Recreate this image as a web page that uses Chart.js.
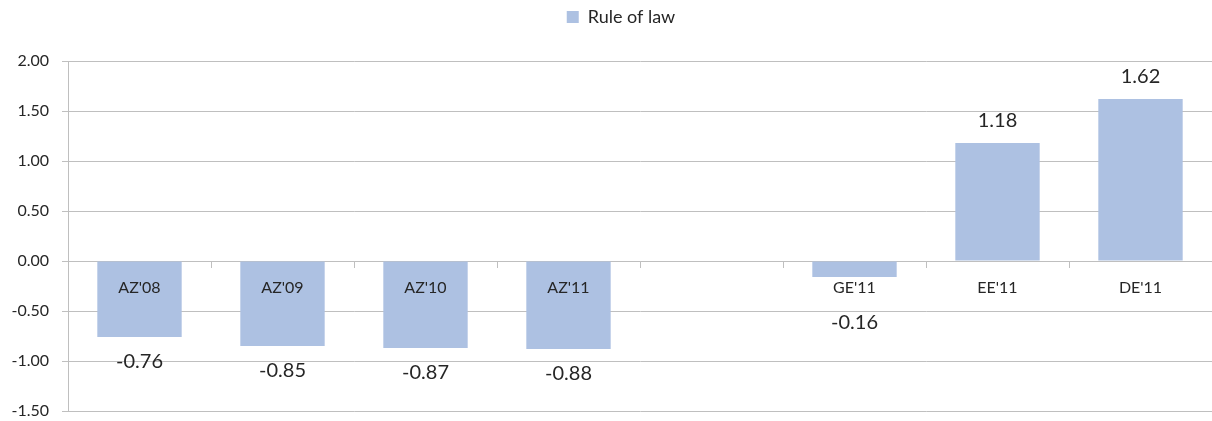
<!DOCTYPE html>
<html>
<head>
<meta charset="utf-8">
<script src="https://cdn.jsdelivr.net/npm/chart.js@4/dist/chart.umd.min.js"></script>
<style>
  html, body { margin: 0; padding: 0; background: #fff; }
  #wrap { width: 1212px; height: 421px; }
</style>
</head>
<body>
<div id="wrap"><canvas id="lawChart"></canvas></div>
<script>
'use strict';
// categories along the zero line (one empty slot between AZ and GE)
let countries = ['AZ\'08', 'AZ\'09', 'AZ\'10', 'AZ\'11', '', 'GE\'11', 'EE\'11', 'DE\'11'];
let ruleOfLaw = [-0.76, -0.85, -0.87, -0.88, null, -0.16, 1.18, 1.62];
let yTicks = [-1.5, -1.0, -0.5, 0, 0.5, 1.0, 1.5, 2.0];

const gridGray = '#bfbfbf';
const textDark = '#262626';
const fontName = 'Lato, "Liberation Sans", sans-serif';

// more room under the legend, and nudge it a bit to the right
const legendGap = {
  id: 'legendGap',
  beforeInit( chart ) {
    const fit = chart.legend.fit;
    chart.legend.fit = function() {
      fit.bind( chart.legend )();
      this.height += 25;
    };
  },
  afterLayout( chart ) {
    chart.legend.left += 15;
    chart.legend.right += 15;
  }
};

// writes each value above (or below) its bar
const valueLabels = {
  id: 'valueLabels',
  afterDatasetsDraw( chart ) {
    const ctx = chart.ctx;
    const zeroY = chart.scales.y.getPixelForValue( 0 );
    ctx.save();
    ctx.font = '20px ' + fontName;
    ctx.fillStyle = textDark;
    ctx.textAlign = 'center';
    ctx.textBaseline = 'middle';
    chart.getDatasetMeta( 0 ).data.forEach( function( bar, i ) {
      let v = ruleOfLaw[i];
      if ( v === null ) {
        return;
      }
      let y;
      if ( v >= 0 ) {
        y = bar.y - 22;
      } else {
        y = Math.max( bar.y + 25, zeroY + 62 );
      }
      ctx.fillText( v.toFixed( 2 ), bar.x, y );
    } );
    ctx.restore();
  }
};

const ctx = document.getElementById( 'lawChart' ).getContext( '2d' );
const lawChart = new Chart( ctx, {
  type: 'bar',
  data: {
    labels: countries,
    datasets: [{
      label: 'Rule of law',
      data: ruleOfLaw,
      backgroundColor: '#adc1e2',
      borderWidth: 0,
      barPercentage: 0.59,
      categoryPercentage: 1
    }]
  },
  options: {
    responsive: true,
    maintainAspectRatio: false,
    animation: false,
    layout: { padding: { top: 0, right: 0, bottom: 10, left: 0 } },
    plugins: {
      legend: {
        position: 'top',
        labels: {
          boxWidth: 12,
          boxHeight: 12,
          padding: 8,
          color: textDark,
          font: { size: 18, family: fontName }
        }
      },
      tooltip: { enabled: false }
    },
    scales: {
      x: {
        position: { y: 0 },
        afterFit( scale ) {
          scale.height = 0;
        },
        grid: {
          drawOnChartArea: false,
          drawTicks: true,
          tickLength: 6,
          color: gridGray,
          offset: true
        },
        border: { display: true, color: gridGray },
        ticks: {
          z: 1,
          color: textDark,
          padding: 11,
          maxRotation: 0,
          font: { size: 16, family: fontName }
        }
      },
      y: {
        min: -1.5,
        max: 2.0,
        afterBuildTicks( scale ) {
          scale.ticks = yTicks.map( function( v ) { return { value: v }; } );
        },
        afterFit( scale ) {
          scale.width = 68;
          scale.paddingBottom = 10;
        },
        grid: {
          color: gridGray,
          tickLength: 6
        },
        border: { display: true, color: gridGray },
        ticks: {
          color: textDark,
          padding: 13,
          font: { size: 16, family: fontName },
          callback: function( v ) { return Number( v ).toFixed( 2 ); }
        }
      }
    }
  },
  plugins: [legendGap, valueLabels]
} );
</script>
</body>
</html>
